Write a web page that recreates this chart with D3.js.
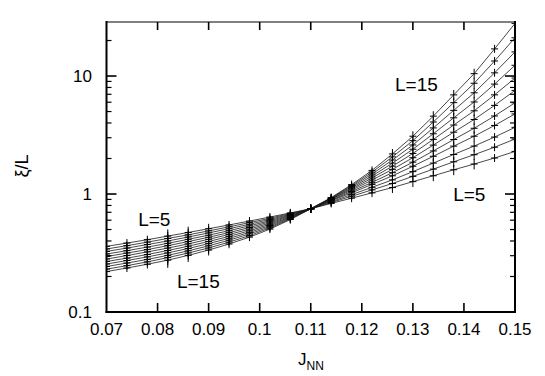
<!DOCTYPE html>
<html>
<head>
<meta charset="utf-8">
<script src="https://cdn.jsdelivr.net/npm/d3@7/dist/d3.min.js"></script>
<style>
  body { margin: 0; background: #fff; }
  text { font-family: "Liberation Sans", Arial, sans-serif; fill: #000; }
</style>
</head>
<body>
<script>
var width = 545,
    height = 376;

// J_NN sample points
const jnn = [0.07, 0.074, 0.078, 0.082, 0.086, 0.09, 0.094, 0.098, 0.102, 0.106,
             0.11, 0.114, 0.118, 0.122, 0.126, 0.13, 0.134, 0.138, 0.142, 0.146, 0.15];

// xi/L for each system size
const L5  = [0.360,0.384,0.410,0.440,0.472,0.508,0.547,0.590,0.638,0.692,0.75,0.832,0.922,1.023,1.134,1.273,1.428,1.605,1.795,2.019,2.296];
const L6  = [0.342,0.365,0.391,0.420,0.451,0.487,0.527,0.572,0.623,0.683,0.75,0.847,0.957,1.084,1.228,1.411,1.625,1.875,2.153,2.493,2.924];
const L7  = [0.326,0.348,0.373,0.400,0.432,0.468,0.508,0.554,0.609,0.674,0.75,0.860,0.989,1.140,1.318,1.548,1.828,2.163,2.548,3.038,3.673];
const L8  = [0.310,0.331,0.355,0.382,0.413,0.448,0.489,0.537,0.594,0.665,0.75,0.875,1.024,1.206,1.427,1.719,2.088,2.546,3.089,3.811,4.775];
const L9  = [0.295,0.316,0.338,0.365,0.395,0.430,0.471,0.520,0.581,0.657,0.75,0.885,1.050,1.256,1.516,1.862,2.317,2.897,3.607,4.586,5.929];
const L10 = [0.281,0.301,0.323,0.348,0.378,0.413,0.454,0.504,0.567,0.648,0.75,0.895,1.079,1.313,1.618,2.031,2.598,3.341,4.283,5.638,7.551];
const L11 = [0.268,0.286,0.307,0.332,0.361,0.396,0.437,0.488,0.554,0.639,0.75,0.904,1.105,1.367,1.721,2.208,2.902,3.842,5.073,6.923,9.616];
const L12 = [0.255,0.273,0.293,0.317,0.345,0.380,0.421,0.473,0.541,0.631,0.75,0.912,1.130,1.421,1.827,2.396,3.241,4.423,6.028,8.542,12.33];
const L13 = [0.243,0.260,0.279,0.302,0.330,0.364,0.406,0.459,0.528,0.623,0.75,0.919,1.155,1.476,1.942,2.604,3.631,5.116,7.209,10.64,16.01];
const L14 = [0.231,0.247,0.266,0.289,0.316,0.349,0.391,0.444,0.516,0.615,0.75,0.926,1.178,1.532,2.063,2.832,4.078,5.946,8.683,13.41,21.09];
const L15 = [0.220,0.236,0.254,0.275,0.302,0.335,0.377,0.431,0.504,0.607,0.75,0.933,1.202,1.585,2.188,3.090,4.571,6.918,10.47,16.98,27.93];

// relative error bar (half length) at each J_NN
const errFrac = [0.08,0.06,0.08,0.14,0.12,0.10,0.08,0.07,0.05,0.04,0.03,0.04,0.06,0.08,0.10,0.10,0.10,0.10,0.10,0.03,0.03];

const xTicks = [0.07, 0.08, 0.09, 0.1, 0.11, 0.12, 0.13, 0.14, 0.15];
const xTickLabels = ["0.07", "0.08", "0.09", "0.1", "0.11", "0.12", "0.13", "0.14", "0.15"];
const yMajor = [0.1, 1, 10];
const yMajorLabels = ["0.1", "1", "10"];
const yMinor = [0.2,0.3,0.4,0.5,0.6,0.7,0.8,0.9,2,3,4,5,6,7,8,9,20];

// curve annotations (position in data units)
const labelText = ["L=15", "L=5", "L=5", "L=15"];
const labelJ = [0.1265, 0.1379, 0.0762, 0.0838];
const labelV = [7.47, 0.873, 0.536, 0.16];

const series = [L5, L6, L7, L8, L9, L10, L11, L12, L13, L14, L15];

var svg = d3.select("body").append("svg")
    .attr("width", width)
    .attr("height", height);

var pLeft = 106.5, pRight = 515, pTop = 22, pBottom = 312;

var x = d3.scaleLinear().domain([0.07, 0.15]).range([pLeft, pRight]);
var y = d3.scaleLog().domain([0.1, 28.7]).range([pBottom, pTop]);

svg.append("clipPath").attr("id", "clip")
  .append("rect").attr("x", pLeft).attr("y", pTop)
  .attr("width", pRight - pLeft).attr("height", pBottom - pTop);

var plot = svg.append("g").attr("clip-path", "url(#clip)");

var line = d3.line().x(d => x(d[0])).y(d => y(d[1]));

// curves
plot.selectAll("path.curve")
  .data(series)
  .join("path")
  .attr("class", "curve")
  .attr("d", s => line(s.map((v, i) => [jnn[i], v])))
  .attr("fill", "none")
  .attr("stroke", "#1a1a1a")
  .attr("stroke-width", 0.8);

// points with error bars ("+" markers)
var pts = [];
series.forEach(s => s.forEach((v, i) => pts.push({ j: jnn[i], v: v, e: errFrac[i] })));

var mk = plot.selectAll("g.pt").data(pts).join("g").attr("class", "pt");
mk.append("line")
  .attr("x1", d => x(d.j)).attr("x2", d => x(d.j))
  .attr("y1", d => Math.min(y(d.v * (1 + d.e)), y(d.v) - 4))
  .attr("y2", d => Math.max(y(d.v * (1 - d.e)), y(d.v) + 4))
  .attr("stroke", "#000").attr("stroke-width", 1);
mk.append("line")
  .attr("x1", d => x(d.j) - 3.5).attr("x2", d => x(d.j) + 3.5)
  .attr("y1", d => y(d.v)).attr("y2", d => y(d.v))
  .attr("stroke", "#000").attr("stroke-width", 1);

// frame
svg.append("line").attr("x1", pLeft).attr("x2", pRight).attr("y1", pTop).attr("y2", pTop)
  .attr("stroke", "#808080").attr("stroke-width", 2);
svg.append("line").attr("x1", pLeft).attr("x2", pLeft).attr("y1", pTop - 1).attr("y2", pBottom + 1)
  .attr("stroke", "#000").attr("stroke-width", 2);
svg.append("line").attr("x1", pRight).attr("x2", pRight).attr("y1", pTop - 1).attr("y2", pBottom + 1)
  .attr("stroke", "#000").attr("stroke-width", 2);
svg.append("line").attr("x1", pLeft - 1).attr("x2", pRight + 1).attr("y1", pBottom).attr("y2", pBottom)
  .attr("stroke", "#000").attr("stroke-width", 2);

// x ticks (bottom and top, inward)
var inner = xTicks.slice(1, -1);
svg.selectAll("line.xtb").data(inner).join("line").attr("class", "xtb")
  .attr("x1", d => x(d)).attr("x2", d => x(d))
  .attr("y1", pBottom).attr("y2", pBottom - 9)
  .attr("stroke", "#000").attr("stroke-width", 1.6);
svg.selectAll("line.xtt").data(inner).join("line").attr("class", "xtt")
  .attr("x1", d => x(d)).attr("x2", d => x(d))
  .attr("y1", pTop).attr("y2", pTop + 8)
  .attr("stroke", "#000").attr("stroke-width", 1.6);

svg.selectAll("text.xl").data(xTicks).join("text").attr("class", "xl")
  .attr("x", d => x(d)).attr("y", 335)
  .attr("text-anchor", "middle")
  .attr("font-size", 17)
  .text((d, i) => xTickLabels[i]);

// y ticks, both sides, inward
[[pLeft, 1], [pRight, -1]].forEach(function (side) {
  svg.selectAll(null).data(yMajor.slice(1)).join("line")
    .attr("x1", side[0]).attr("x2", side[0] + side[1] * 10)
    .attr("y1", d => y(d)).attr("y2", d => y(d))
    .attr("stroke", "#000").attr("stroke-width", 1.6);
  svg.selectAll(null).data(yMinor).join("line")
    .attr("x1", side[0]).attr("x2", side[0] + side[1] * 5)
    .attr("y1", d => y(d)).attr("y2", d => y(d))
    .attr("stroke", "#000").attr("stroke-width", 1.2);
});

svg.selectAll("text.yl").data(yMajor).join("text").attr("class", "yl")
  .attr("x", 92).attr("y", d => y(d) + 6)
  .attr("text-anchor", "end")
  .attr("font-size", 17)
  .text((d, i) => yMajorLabels[i]);

// axis titles
var xt = svg.append("text").attr("x", 311).attr("y", 365)
  .attr("text-anchor", "middle").attr("font-size", 17);
xt.append("tspan").text("J");
xt.append("tspan").attr("font-size", 12).attr("dy", 5).text("NN");

svg.append("text")
  .attr("transform", "translate(28,166) rotate(-90)")
  .attr("text-anchor", "middle")
  .attr("font-size", 18)
  .text("ξ/L");

// curve labels
svg.selectAll("text.lab").data(labelText).join("text").attr("class", "lab")
  .attr("x", (d, i) => x(labelJ[i])).attr("y", (d, i) => y(labelV[i]))
  .attr("font-size", 19)
  .text(d => d);
</script>
</body>
</html>
